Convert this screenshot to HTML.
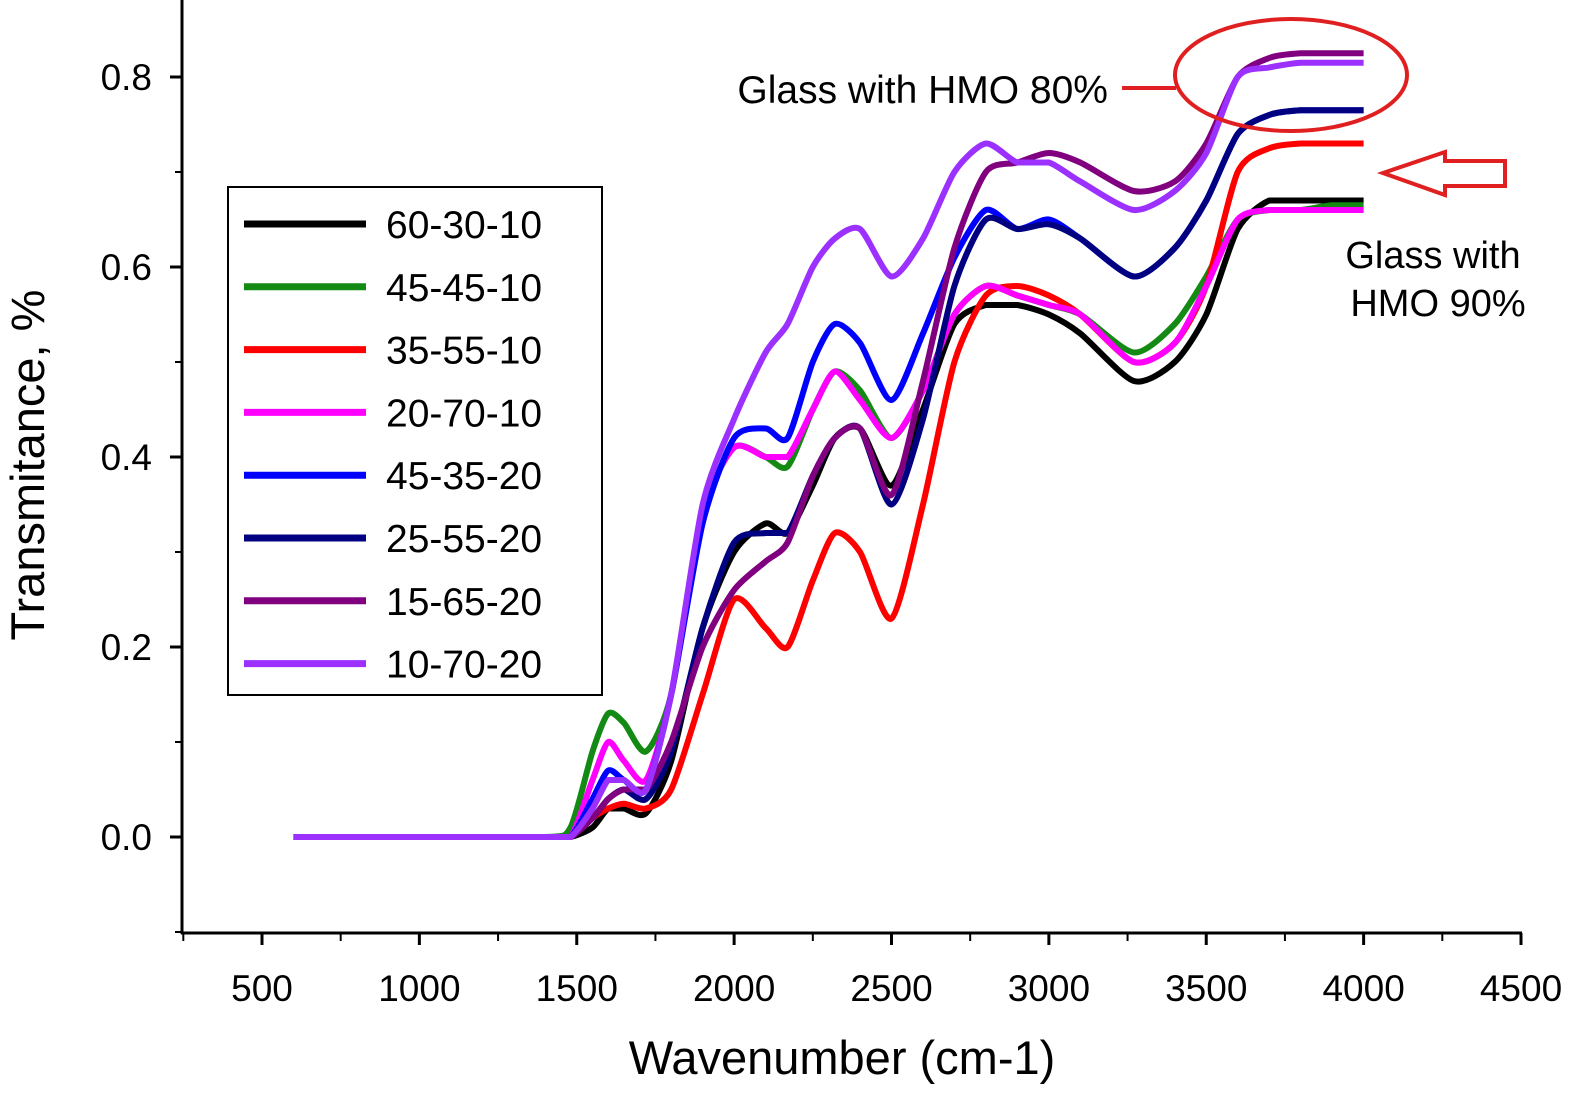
<!DOCTYPE html>
<html><head><meta charset="utf-8"><style>
body{margin:0;background:#fff}
svg{display:block;font-family:"Liberation Sans",Arial,sans-serif}
</style></head><body>
<svg id="chart" width="1593" height="1105" viewBox="0 0 1593 1105">
<g id="axes"></g>
<g id="series"></g>
<g id="legend">
<rect x="228" y="187" width="374" height="508" fill="#fff" stroke="#000" stroke-width="2"/>
</g>
<g>
<text x="1108" y="103" font-size="39" text-anchor="end">Glass with HMO 80%</text>
<line x1="1122" y1="88" x2="1176" y2="88" stroke="#e02020" stroke-width="4"/>
<ellipse cx="1291" cy="75" rx="116" ry="56" fill="none" stroke="#e02020" stroke-width="4"/>
<polygon points="1383,173 1445,152 1445,161 1505,161 1505,186 1445,186 1445,195" fill="none" stroke="#e02020" stroke-width="4"/>
<text x="1433" y="268" font-size="38" text-anchor="middle">Glass with</text>
<text x="1438" y="316" font-size="38" text-anchor="middle">HMO 90%</text>
</g>
</svg>
<script>
const wavenumbers=[600,1000,1400,1480,1550,1600,1650,1720,1800,1900,2000,2100,2170,2250,2320,2400,2500,2600,2700,2800,2900,3000,3100,3270,3400,3500,3600,3700,3800,3900,4000];
const seriesNames=["60-30-10","45-45-10","35-55-10","20-70-10","45-35-20","25-55-20","15-65-20","10-70-20"];
const seriesColors=["#000000","#138a13","#ff0000","#ff00ff","#0000ff","#000080","#800080","#9b30ff"];
const s6030=[0,0,0,0,0.01,0.03,0.03,0.025,0.08,0.22,0.30,0.33,0.32,0.37,0.42,0.43,0.37,0.45,0.54,0.56,0.56,0.55,0.53,0.48,0.50,0.55,0.64,0.67,0.67,0.67,0.67];
const s4545=[0,0,0,0.01,0.09,0.13,0.12,0.09,0.15,0.34,0.41,0.40,0.39,0.45,0.49,0.47,0.42,0.47,0.55,0.58,0.57,0.56,0.55,0.51,0.54,0.59,0.65,0.66,0.66,0.665,0.665];
const s3555=[0,0,0,0,0.02,0.03,0.035,0.03,0.05,0.15,0.25,0.22,0.20,0.27,0.32,0.30,0.23,0.35,0.50,0.57,0.58,0.57,0.55,0.50,0.52,0.58,0.70,0.725,0.73,0.73,0.73];
const s2070=[0,0,0,0,0.06,0.10,0.08,0.06,0.15,0.34,0.41,0.40,0.40,0.45,0.49,0.46,0.42,0.47,0.55,0.58,0.57,0.56,0.55,0.50,0.52,0.58,0.65,0.66,0.66,0.66,0.66];
const s4535=[0,0,0,0,0.04,0.07,0.06,0.05,0.15,0.33,0.42,0.43,0.42,0.50,0.54,0.52,0.46,0.53,0.61,0.66,0.64,0.65,0.63,0.59,0.62,0.67,0.74,0.76,0.765,0.765,0.765];
const s2555=[0,0,0,0,0.02,0.04,0.05,0.04,0.09,0.22,0.31,0.32,0.32,0.38,0.42,0.43,0.35,0.44,0.58,0.65,0.64,0.645,0.63,0.59,0.62,0.67,0.74,0.76,0.765,0.765,0.765];
const s1565=[0,0,0,0,0.02,0.04,0.05,0.05,0.10,0.20,0.26,0.29,0.31,0.38,0.42,0.43,0.36,0.48,0.62,0.70,0.71,0.72,0.71,0.68,0.69,0.73,0.80,0.82,0.825,0.825,0.825];
const s1070=[0,0,0,0,0.03,0.06,0.06,0.05,0.15,0.35,0.44,0.51,0.54,0.60,0.63,0.64,0.59,0.63,0.70,0.73,0.71,0.71,0.69,0.66,0.68,0.72,0.80,0.81,0.815,0.815,0.815];
const allSeries=[s6030,s4545,s3555,s2070,s4535,s2555,s1565,s1070];
const xTicks=[500,1000,1500,2000,2500,3000,3500,4000,4500];
const yTicks=[0.0,0.2,0.4,0.6,0.8];
const yTickLabels=["0.0","0.2","0.4","0.6","0.8"];

const NS="http://www.w3.org/2000/svg";
function X(v){return 262+(v-500)*(1259/4000);}
function Y(v){return 837-v*950;}
function mk(tag,attrs,parent){const e=document.createElementNS(NS,tag);for(const k in attrs)e.setAttribute(k,attrs[k]);parent.appendChild(e);return e;}
const axes=document.getElementById('axes');
let e;
e=mk('line',{x1:182,y1:0,x2:182,y2:934,stroke:'#000','stroke-width':3},axes);


e=mk('line',{x1:181,y1:933,x2:1522,y2:933,stroke:'#000','stroke-width':3},axes);


xTicks.forEach((t,i)=>{
 const x=X(t);
 let tk=mk('line',{x1:x,y1:933,x2:x,y2:945,stroke:'#000','stroke-width':3},axes);
 
 
 const mx=X(t-250);
 if(mx>182){let m=mk('line',{x1:mx,y1:933,x2:mx,y2:941,stroke:'#000','stroke-width':2},axes);
 
 }
 let tx=mk('text',{x:x,y:1001,'font-size':37,'text-anchor':'middle'},axes);
 tx.textContent=String(t);
 
 
});
yTicks.forEach((t,i)=>{
 const y=Y(t);
 let tk=mk('line',{x1:170,y1:y,x2:182,y2:y,stroke:'#000','stroke-width':3},axes);
 
 
 let tx=mk('text',{x:152,y:y+13,'font-size':37,'text-anchor':'end'},axes);
 tx.textContent=yTickLabels[i];
 
 
});
[-0.1,0.1,0.3,0.5,0.7].forEach(t=>{
 const y=Y(t);
 let m=mk('line',{x1:175,y1:y,x2:182,y2:y,stroke:'#000','stroke-width':2},axes);
 
 
});
let xt=mk('text',{x:842,y:1074,'font-size':47,'text-anchor':'middle'},axes);
xt.textContent='Wavenumber (cm-1)';


let yt=mk('text',{x:0,y:0,'font-size':47,'text-anchor':'middle',transform:'translate(44,465) rotate(-90)'},axes);
yt.textContent='Transmitance, %';



function smoothPath(pts){
 let d='M'+pts[0][0]+','+pts[0][1];
 const k=8;
 for(let i=0;i<pts.length-1;i++){
  const p0=pts[i-1]||pts[i],p1=pts[i],p2=pts[i+1],p3=pts[i+2]||p2;
  let c1=[p1[0]+(p2[0]-p0[0])/k,p1[1]+(p2[1]-p0[1])/k];
  let c2=[p2[0]-(p3[0]-p1[0])/k,p2[1]-(p3[1]-p1[1])/k];
  if(p1[1]===p2[1]){c1[1]=p1[1];c2[1]=p2[1];}
  d+=` C${c1[0].toFixed(1)},${c1[1].toFixed(1)} ${c2[0].toFixed(1)},${c2[1].toFixed(1)} ${p2[0].toFixed(1)},${p2[1].toFixed(1)}`;
 }
 return d;
}
const sg=document.getElementById('series');
allSeries.forEach((vals,si)=>{
 const pts=vals.map((v,i)=>[X(wavenumbers[i]),Y(v)]);
 let p=mk('path',{d:smoothPath(pts),fill:'none',stroke:seriesColors[si],'stroke-width':6,'stroke-linejoin':'round'},sg);
 
 
});
const lg=document.getElementById('legend');
seriesNames.forEach((n,i)=>{
 const y=224+i*62.8;
 let l=mk('line',{x1:244,y1:y,x2:366,y2:y,stroke:seriesColors[i],'stroke-width':7},lg);
 
 
 let t=mk('text',{x:386,y:y+14,'font-size':39},lg);
 t.textContent=n;
 
 
});
</script>
</body></html>
